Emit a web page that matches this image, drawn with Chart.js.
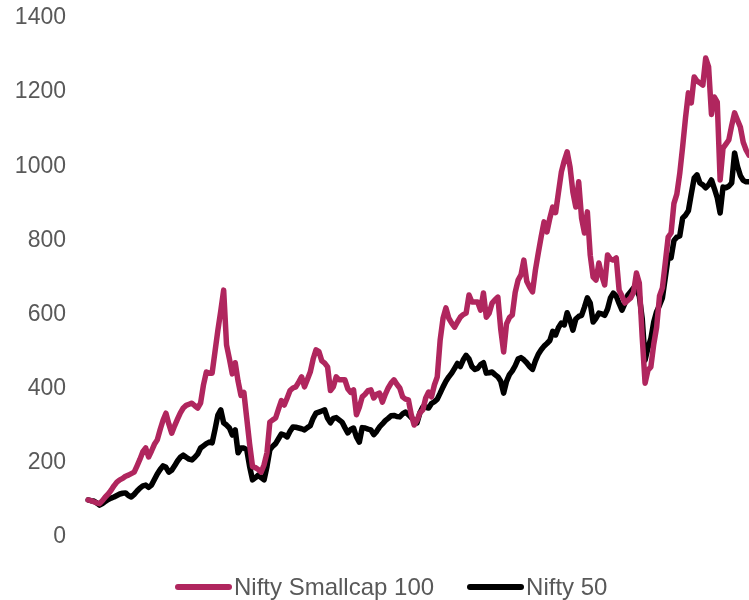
<!DOCTYPE html>
<html>
<head>
<meta charset="utf-8">
<script src="https://cdn.jsdelivr.net/npm/chart.js@4.4.1/dist/chart.umd.min.js"></script>
<style>
  html, body { margin: 0; padding: 0; background: #fff; }
  #wrap { width: 749px; height: 600px; position: relative; }
  #legend {
    position: absolute; left: 175px; top: 573px; height: 28px;
    display: flex; align-items: center; gap: 33px;
    font-family: 'Liberation Sans', Arial, sans-serif; font-size: 24px; color: #595959;
    white-space: nowrap;
  }
  .item { display: flex; align-items: center; gap: 2px; }
  .swatch { width: 57px; height: 6px; border-radius: 3px; }
</style>
</head>
<body>
<div id="wrap">
  <canvas id="chart"></canvas>
  <div id="legend"></div>
</div>
<script>
// monthly index values, rebased to 100 (Apr 2004 onwards)
const smallcap100 = [
  100, 98, 95, 92, 90, 98, 108, 116, 126, 138, 148, 154, 158, 164, 167, 171, 175, 192, 210, 230,
  240, 216, 232, 250, 262, 290, 315, 334, 305, 280, 300, 318, 335, 348, 355, 358, 361, 354, 348, 361,
  410, 445, 442, 442, 500, 558, 610, 666, 518, 480, 440, 470, 420, 382, 390, 320, 250, 190, 187, 182,
  175, 195, 227, 310, 316, 321, 345, 368, 356, 375, 395, 402, 405, 418, 432, 405, 425, 445, 480, 505,
  500, 475, 469, 459, 395, 405, 432, 424, 424, 424, 400, 390, 397, 330, 350, 378, 385, 395, 397, 375,
  385, 388, 364, 385, 402, 415, 424, 412, 402, 378, 372, 370, 330, 302, 315, 335, 343, 375, 391, 378,
  410, 432, 531, 590, 618, 590, 577, 566, 580, 593, 600, 604, 653, 634, 634, 634, 612, 658, 593, 604,
  631, 640, 647, 560, 499, 575, 592, 599, 660, 693, 707, 747, 690, 674, 661, 720, 766, 810, 850, 823,
  860, 890, 875, 930, 985, 1015, 1039, 998, 930, 890, 958, 860, 820, 877, 760, 701, 693, 739, 705, 680,
  761, 750, 747, 753, 666, 650, 631, 638, 645, 660, 712, 685, 540, 415, 450, 459, 520, 566, 650, 672,
  740, 809, 820, 900, 925, 980, 1052, 1130, 1198, 1171, 1241, 1230, 1225, 1219, 1292, 1268, 1140, 1187, 1173, 963,
  1049, 1060, 1071, 1110, 1144, 1125, 1106, 1065, 1044, 1030
]

const nifty50 = [
  100, 98, 97, 92, 86, 90, 96, 101, 105, 108, 112, 116, 118, 119, 112, 108, 115, 124, 132, 138,
  140, 134, 140, 155, 170, 182, 192, 188, 175, 180, 192, 205, 215, 221, 215, 210, 208, 215, 224, 240,
  246, 252, 256, 254, 290, 329, 343, 308, 302, 294, 275, 289, 227, 240, 240, 235, 190, 154, 160, 167,
  160, 154, 190, 235, 245, 252, 265, 278, 275, 270, 285, 297, 296, 294, 292, 289, 295, 300, 320, 334,
  337, 340, 343, 320, 308, 320, 322, 316, 310, 295, 281, 290, 294, 270, 256, 295, 294, 291, 289, 276,
  285, 297, 305, 314, 320, 327, 328, 325, 324, 332, 337, 330, 322, 315, 308, 335, 351, 350, 348, 360,
  365, 372, 388, 405, 420, 432, 442, 455, 468, 460, 478, 490, 480, 460, 452, 455, 465, 470, 442, 443,
  445, 438, 432, 420, 388, 420, 438, 448, 462, 480, 484, 478, 470, 460, 452, 475, 493, 505, 515, 522,
  530, 555, 545, 565, 577, 572, 605, 585, 558, 588, 595, 598, 620, 645, 631, 580, 590, 604, 602, 598,
  615, 645, 658, 650, 630, 612, 630, 652, 662, 672, 668, 650, 590, 477, 510, 535, 580, 608, 625, 645,
  700, 755, 753, 800, 809, 812, 860, 868, 880, 925, 968, 977, 955, 950, 942, 950, 963, 940, 915, 874,
  944, 942, 946, 955, 1036, 1000, 975, 962, 958, 958
]

const monthNames = ['Jan', 'Feb', 'Mar', 'Apr', 'May', 'Jun', 'Jul', 'Aug', 'Sep', 'Oct', 'Nov', 'Dec']
const months = smallcap100.map((v, i) => {
  const m = (3 + i) % 12
  const y = 2004 + Math.floor((3 + i) / 12)
  return `${monthNames[m]}-${String(y).slice(2)}`
})

const yTicks = [0, 200, 400, 600, 800, 1000, 1200, 1400]

const textColour = '#595959'
const fontFamily = "'Liberation Sans', Arial, sans-serif"

const chart = new Chart(document.getElementById('chart'), {
  type: 'line',
  data: {
    labels: months,
    datasets: [
      {
        label: 'Nifty Smallcap 100',
        data: smallcap100,
        borderColor: '#b0265e',
        backgroundColor: '#b0265e',
        borderWidth: 5.5,
        borderCapStyle: 'round',
        borderJoinStyle: 'round',
        pointRadius: 0,
        tension: 0,
      },
      {
        label: 'Nifty 50',
        data: nifty50,
        borderColor: '#000000',
        backgroundColor: '#000000',
        borderWidth: 5.5,
        borderCapStyle: 'round',
        borderJoinStyle: 'round',
        pointRadius: 0,
        tension: 0,
      },
    ],
  },
  options: {
    responsive: true,
    maintainAspectRatio: false,
    animation: false,
    layout: {
      padding: { top: 0, right: 0, left: 15, bottom: 63 },
    },
    scales: {
      x: {
        display: false,
        offset: false,
      },
      y: {
        min: 0,
        max: 1400,
        afterBuildTicks: (axis) => {
          axis.ticks = yTicks.map((v) => ({ value: v }))
        },
        // plot starts at x=88, top at y=18
        afterFit: (axis) => {
          axis.width = 73
          axis.paddingTop = 18
          axis.paddingBottom = 10
        },
        grid: { display: false, drawTicks: false },
        border: { display: false },
        ticks: {
          color: textColour,
          padding: 22,
          font: { family: fontFamily, size: 23 },
          callback: (v) => String(v),
        },
      },
    },
    plugins: {
      legend: { display: false },
      tooltip: { enabled: false },
    },
  },
})

// html legend, built from the datasets
const legendEl = document.getElementById('legend')
chart.data.datasets.forEach((d) => {
  const item = document.createElement('div')
  item.className = 'item'
  const swatch = document.createElement('span')
  swatch.className = 'swatch'
  swatch.style.background = d.borderColor
  const text = document.createElement('span')
  text.textContent = d.label
  item.appendChild(swatch)
  item.appendChild(text)
  legendEl.appendChild(item)
})
</script>
</body>
</html>
